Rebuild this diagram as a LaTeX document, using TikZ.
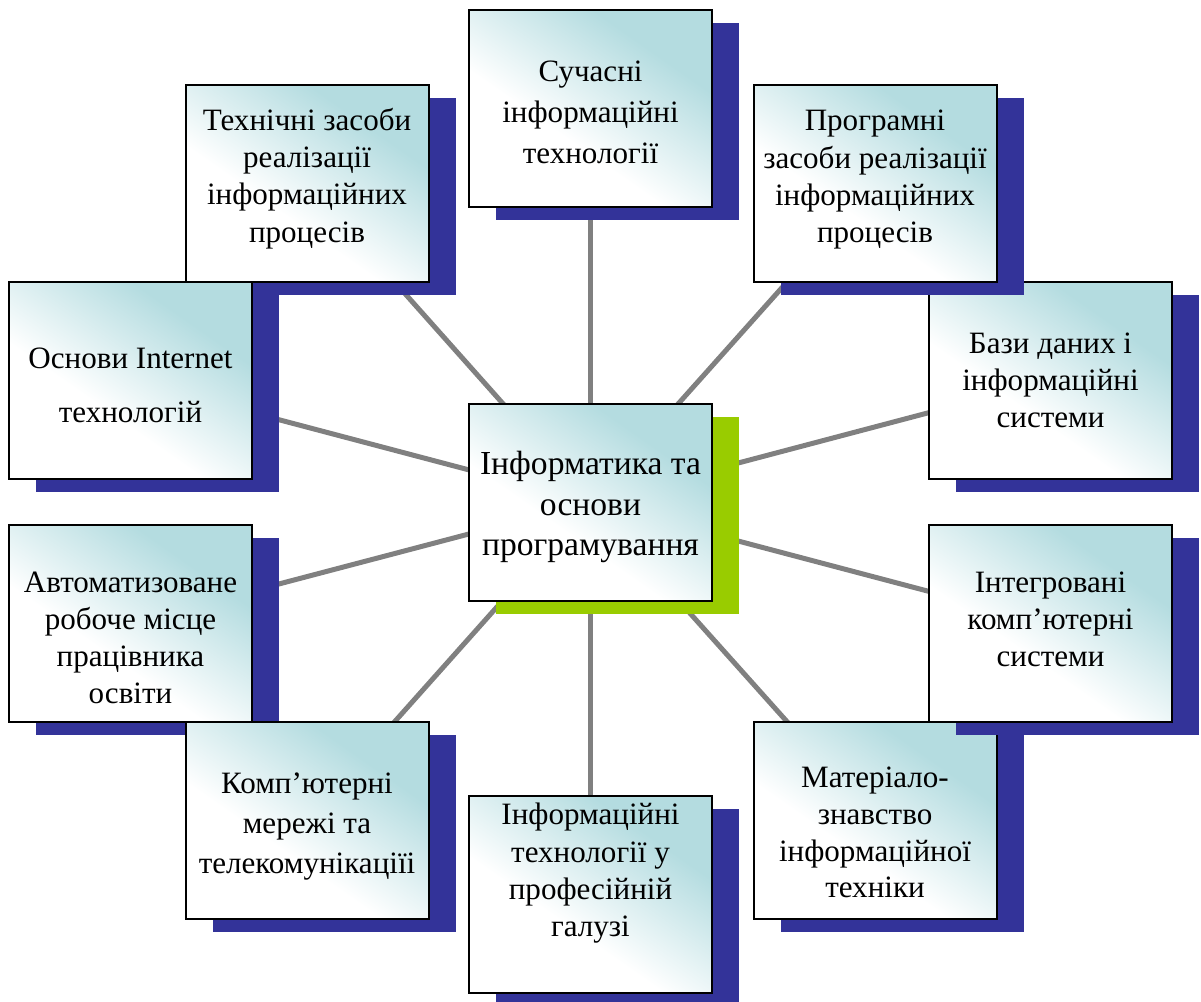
\documentclass[tikz,border=0pt]{standalone}
\usepackage{fontspec}
\setmainfont{Liberation Serif}
\usetikzlibrary{backgrounds}
\definecolor{tealc}{HTML}{B4DCE0}
\definecolor{navyc}{HTML}{333399}
\definecolor{greenc}{HTML}{99CC00}
\definecolor{linec}{HTML}{808080}
\pgfdeclareverticalshading{boxgrad}{100bp}{color(0bp)=(white); color(41bp)=(white); color(69bp)=(tealc); color(100bp)=(tealc)}
\tikzset{
  box/.style={draw=black, line width=1.5pt, shade, shading=boxgrad, shading angle=-35,
    minimum width=182.25pt, minimum height=147.75pt, inner sep=0pt, outer sep=0pt},
  shbox/.style={draw=none, minimum width=182.25pt, minimum height=147.75pt, inner sep=0pt, outer sep=0pt},
  txt/.style={align=center, text=black, inner sep=0pt},
  fn/.style={font=\fontsize{23.3pt}{#1}\selectfont},
  link/.style={draw=linec, line width=3.75pt},
}
\newcommand\mkbox[4][navyc]{%
  \node[shbox, fill=#1] (#2s) at (#3+27,#4+13) {};
  \node[box] (#2) at (#3,#4) {};}
\begin{document}
\begin{tikzpicture}[x=0.75pt,y=-0.75pt]
\useasboundingbox (0,0) rectangle (1201,1001);
% boxes with shadows (drawing order matters for overlaps)
\mkbox{bT}{590.5}{108}
\mkbox{bBD}{1050.5}{380.5}
\mkbox{bPR}{875}{183.5}
\mkbox{bTZ}{307}{183.5}
\mkbox{bIN}{130.5}{380.5}
\mkbox{bAR}{130.5}{623}
\mkbox{bKM}{307}{820}
\mkbox{bMZ}{875}{820}
\mkbox{bIK}{1050.5}{623.5}
\mkbox{bIT}{590.5}{894.5}
\mkbox[greenc]{bC}{590.5}{502}
% connectors
\begin{scope}[on background layer]
\foreach \b in {bT,bBD,bPR,bTZ,bIN,bAR,bKM,bMZ,bIK,bIT}
  \draw[link] (bC.center) -- (\b.center);
\end{scope}
% texts
\node[txt, fn=30.4pt] (tT) at (590.5,114.4) {\strut Сучасні\\\strut інформаційні\\\strut технології};
\node[txt, fn=28pt] (tTZ) at (307,178.8) {\strut Технічні засоби\\\strut реалізації\\\strut інформаційних\\\strut процесів};
\node[txt, fn=28pt] (tPR) at (875,179.3) {\strut Програмні\\\strut засоби реалізації\\\strut інформаційних\\\strut процесів};
\node[txt, fn=40.5pt] (tIN) at (130.5,384.2) {\strut Основи Internet\\\strut технологій};
\node[txt, fn=27.75pt] (tBD) at (1050.5,382.6) {\strut Бази даних і\\\strut інформаційні\\\strut системи};
\node[txt, fn=27.75pt] (tAR) at (130.5,640.1) {\strut Автоматизоване\\\strut робоче місце\\\strut працівника\\\strut освіти};
\node[txt, fn=27.75pt] (tIK) at (1050.5,622.1) {\strut Інтегровані\\\strut комп’ютерні\\\strut системи};
\node[txt, fn=30pt] (tKM) at (307,825) {\strut Комп’ютерні\\\strut мережі та\\\strut телекомунікаціїі};
\node[txt, fn=28pt] (tIT) at (590.5,873.5) {\strut Інформаційні\\\strut технології у\\\strut професійній\\\strut галузі};
\node[txt, fn=27.5pt] (tMZ) at (875,835.6) {\strut Матеріало-\\\strut знавство\\\strut інформаційної\\\strut техніки};
\node[txt, font=\fontsize{25.2pt}{30.4pt}\selectfont] (tC) at (590.5,507) {\strut Інформатика та\\\strut основи\\\strut програмування};
\end{tikzpicture}
\end{document}
